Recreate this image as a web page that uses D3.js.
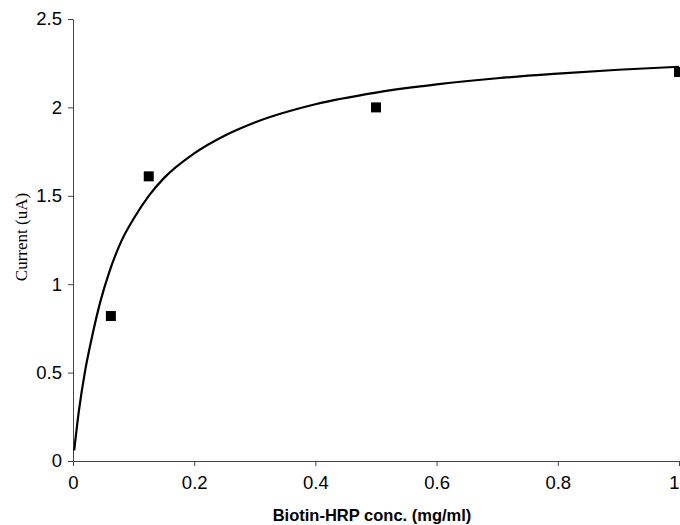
<!DOCTYPE html>
<html>
<head>
<meta charset="utf-8">
<script src="https://cdn.jsdelivr.net/npm/d3@7"></script>
<style>
  body { margin: 0; background: #fff; }
  svg { display: block; }
</style>
</head>
<body>
<div id="chart"></div>
<script>
var width = 680,
    height = 525;

// measured points
var concX = [0.0625, 0.125, 0.5, 1];
var currentY = [0.82, 1.61, 2.0, 2.2];

// trend line
var fitX = [0.002, 0.01, 0.02, 0.03, 0.045, 0.06, 0.08, 0.1, 0.125, 0.15, 0.2, 0.25, 0.3, 0.4, 0.5, 0.6, 0.7, 0.8, 0.9, 1.0];
var fitY = [0.06, 0.29, 0.51, 0.68, 0.90, 1.07, 1.245, 1.37, 1.50, 1.60, 1.74, 1.84, 1.915, 2.018, 2.084, 2.13, 2.165, 2.191, 2.213, 2.23];

var xTicks = [0, 0.2, 0.4, 0.6, 0.8, 1];
var yTicks = [0, 0.5, 1, 1.5, 2, 2.5];

var margin = {left: 73, right: 1, top: 19, bottom: 64};

var x = d3.scaleLinear().domain([0, 1]).range([margin.left, width - margin.right]);
var y = d3.scaleLinear().domain([0, 2.5]).range([height - margin.bottom, margin.top]);

var svg = d3.select("#chart").append("svg")
    .attr("width", width)
    .attr("height", height);

/* axes */
var xAxis = svg.append("g")
    .attr("transform", "translate(0," + y(0) + ")")
    .call(d3.axisBottom(x).tickValues(xTicks).tickSize(5).tickSizeOuter(0)
        .tickFormat(function(d){ return d3.format("")(d); }));

var yAxis = svg.append("g")
    .attr("transform", "translate(" + x(0) + ",0)")
    .call(d3.axisLeft(y).tickValues(yTicks).tickSize(5).tickSizeOuter(0)
        .tickFormat(function(d){ return d3.format("")(d); }));

svg.selectAll(".domain, .tick line")
    .attr("stroke", "#444")
    .attr("stroke-width", 1);

xAxis.selectAll("text")
    .attr("dy", "1.1em")
    .style("font-family", "Liberation Sans, Arial, sans-serif")
    .style("font-size", "18.5px")
    .attr("fill", "#000");

// last label sits on the right edge, pull it in
xAxis.selectAll("text").filter(function(d){ return d === 1; })
    .attr("text-anchor", "end")
    .attr("x", 0);

yAxis.selectAll("text")
    .attr("x", -11)
    .style("font-family", "Liberation Sans, Arial, sans-serif")
    .style("font-size", "18.5px")
    .attr("fill", "#000");

/* trend line */
var line = d3.line()
    .x(function(d){ return x(d[0]); })
    .y(function(d){ return y(d[1]); })
    .curve(d3.curveMonotoneX);

svg.append("path")
    .datum(d3.zip(fitX, fitY))
    .attr("d", line)
    .attr("fill", "none")
    .attr("stroke", "#000")
    .attr("stroke-width", 2.2);

/* markers */
var sz = 10;
svg.selectAll("rect.pt")
    .data(d3.zip(concX, currentY))
    .enter()
    .append("rect")
    .attr("class", "pt")
    .attr("x", function(d){ return x(d[0]) - sz / 2; })
    .attr("y", function(d){ return y(d[1]) - sz / 2; })
    .attr("width", sz)
    .attr("height", sz)
    .attr("fill", "#000");

/* titles */
svg.append("text")
    .attr("x", 372)
    .attr("y", 521)
    .attr("text-anchor", "middle")
    .style("font-family", "Liberation Sans, Arial, sans-serif")
    .style("font-weight", "bold")
    .style("font-size", "16.5px")
    .text("Biotin-HRP conc. (mg/ml)");

svg.append("text")
    .attr("transform", "translate(27,237) rotate(-90)")
    .attr("text-anchor", "middle")
    .style("font-family", "Liberation Serif, Times New Roman, serif")
    .style("font-size", "17px")
    .text("Current (uA)");
</script>
</body>
</html>
